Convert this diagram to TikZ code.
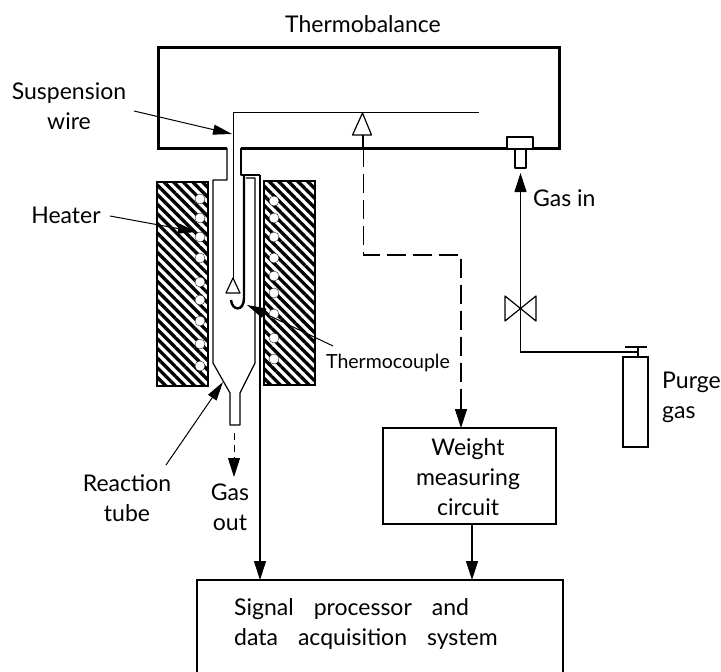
\documentclass[tikz,border=0pt]{standalone}
\usepackage{fontspec}
\setmainfont{Lato}
\usetikzlibrary{arrows.meta,patterns.meta,positioning}
\tikzset{
 lbl/.style={font=\fontsize{23}{30}\selectfont,inner sep=0pt,align=center},
 pipe/.style={line width=1.2pt,line join=round},
 wall/.style={line width=3pt,line join=miter},
 arr/.style={line width=1.1pt,-{Triangle[length=19pt,width=12pt]}},
 ptr/.style={line width=1pt,-{Triangle[length=19pt,width=10pt]}},
 dashline/.style={line width=1.1pt,dash pattern=on 19pt off 7pt},
 boxnode/.style={draw,line width=1.2pt,inner sep=0pt},
 hatch/.style={draw,line width=1.2pt,pattern={Lines[angle=135,distance=6.8pt,line width=3.3pt]}},
 coil/.style={circle,draw,line width=0.3pt,fill=white,minimum size=10pt,inner sep=0pt}
}
\newcommand{\wgap}{\hspace{20pt}}
\begin{document}
\begin{tikzpicture}[x=1pt,y=-1pt]
\useasboundingbox (0,0) rectangle (721,672);
% thermobalance casing
\draw[wall] (227,148) -- (158,148) -- (158,47) -- (559,47) -- (559,148) -- (241,148);
\node[lbl] (title) at (363,24) {Thermobalance};
% heater blocks
\draw[hatch] (157,182) rectangle (208,386);
\draw[hatch] (264,181) rectangle (315,385);
\foreach \y in {199,218,237,258,282,300,321,344,366}
  \node[coil] (cl\y) at (200,\y) {};
\foreach \y in {201,218,237,258,276,293,314,338,359}
  \node[coil] (cr\y) at (274,\y) {};
% reaction tube
\draw[pipe] (227,148) -- (227,180) -- (213,180) -- (213,363) -- (230,393) -- (230,425) -- (240,425)
  -- (240,393) -- (255,363) -- (255,178) -- (246,178);
\draw[pipe] (241,148) -- (241,175) -- (260,175);
\draw[line width=2.4pt] (244,175) -- (244,298) .. controls (244,312) and (232,311) .. (231,300);
% suspension wire and pans
\draw[line width=0.9pt] (233,278) -- (233,112) -- (479,112);
\draw[pipe,fill=white] (233,278) -- (226,293) -- (240,293) -- cycle;
\draw[pipe,fill=white] (362.5,113) -- (352.5,135) -- (371.5,135) -- cycle;
\draw[pipe] (363,135) -- (363,148);
% gas inlet
\draw[pipe,fill=white] (507,148) -- (507,137) -- (533,137) -- (533,148);
\draw[pipe,fill=white] (515,149) rectangle (526,168);
\node[lbl,anchor=west] (gasin) at (533,198) {Gas in};
% boxes
\node[boxnode,minimum width=173pt,minimum height=96pt] (weight) at (469.5,476) {};
\node[lbl] (weighttext) at (468,477) {Weight\\measuring\\circuit};
\node[boxnode,minimum width=366pt,minimum height=100pt] (signal) at (380,630) {};
\node[lbl,align=left,anchor=west] (sigtext) at (234,624)
  {Signal\wgap processor\wgap and\\data\wgap acquisition\wgap system};
% cylinder
\node[boxnode,minimum width=25pt,minimum height=90pt] (bottle) at (635.5,402) {};
\coordinate (valve) at (520.5,308.5);
\coordinate (tap) at (638,352);
\draw[pipe] (625,347) -- (647,347);
\draw[pipe] (638,347) -- (638,357);
\draw[pipe] (505,296) -- (536,321) -- (536,296) -- (505,321) -- cycle;
\draw[arr] (tap) -- (520.5,352) -- (valve) -- (520.5,173);
\node[lbl,align=left,anchor=west] (purge) at (662,397) {Purge\\gas};
% labels and pointers
\node[lbl] (susp) at (69,106) {Suspension\\wire};
\node[lbl] (heater) at (66,215) {Heater};
\node[lbl] (tube) at (127,498) {Reaction\\tube};
\node[lbl] (gasout) at (230,507) {Gas\\out};
\node[lbl,font=\fontsize{19.5}{24}\selectfont] (tc) at (388,363) {Thermocouple};
\coordinate (suspend) at (232,134);
\coordinate (heatend) at (197,232);
\coordinate (tubeend) at (223,382);
\coordinate (tcend) at (247,305);
\draw[ptr] (134,111) -- (suspend);
\draw[ptr] (110,216) -- (heatend);
\draw[ptr] (166,465) -- (tubeend);
\draw[ptr] (333,346) -- (tcend);
% signal lines
\draw[dashline] (363.5,148) -- (363.5,255) -- (461,255) -- (461,405);
\draw[arr] (461,405) -- (461,428);
\draw[arr,line width=0.9pt,dash pattern=on 7pt off 5pt] (234,433) -- (234,477);
\draw[arr] (260,175) -- (260,580);
\draw[arr] (472,524) -- (472,580);
\end{tikzpicture}
\end{document}
